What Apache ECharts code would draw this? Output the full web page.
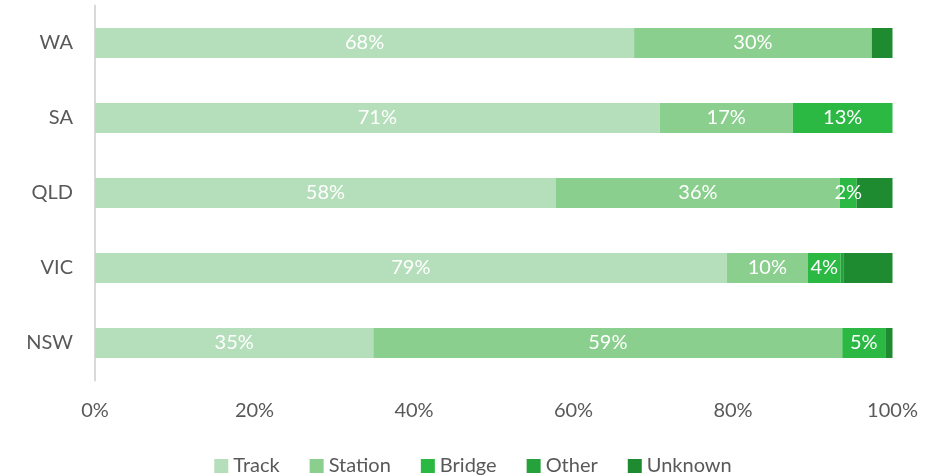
<!DOCTYPE html>
<html><head><meta charset="utf-8">
<script src="https://cdn.jsdelivr.net/npm/echarts@6/dist/echarts.min.js"></script>
<style>html,body{margin:0;padding:0;background:#fff}#c{width:946px;height:476px}</style>
</head><body><div id="c"></div>
<script>
const categories = ['NSW', 'VIC', 'QLD', 'SA', 'WA'];
const seriesNames = ['Track', 'Station', 'Bridge', 'Other', 'Unknown'];
const track   = [34.9, 79.2, 57.8, 70.8, 67.6];
const station = [58.8, 10.2, 35.6, 16.7, 29.8];
const bridge  = [5.4, 4.1, 2.1, 12.5, 0];
const other   = [0, 0.4, 0, 0, 0];
const unknown = [0.9, 6.1, 4.5, 0, 2.6];
const xTicks = [0, 20, 40, 60, 80, 100];
const colors = ['#b5dfbb', '#8bcf8f', '#2bb944', '#25a23b', '#1f8b31'];
const values = [track, station, bridge, other, unknown];
const labelled = [true, true, true, false, false];
const font = 'Lato, "Open Sans", sans-serif';

const chart = echarts.init(document.getElementById('c'));
chart.setOption({
  animation: false,
  textStyle: {fontFamily: font},
  color: colors,
  grid: {left: 95, right: 53.5, top: 5.5, bottom: 95.5, containLabel: false},
  legend: {
    top: 451, left: 'center', itemWidth: 14, itemHeight: 14, itemGap: 30,
    icon: 'rect',
    textStyle: {fontSize: 20, color: '#595959', fontFamily: font},
    data: seriesNames
  },
  xAxis: {
    type: 'value', min: xTicks[0], max: xTicks[xTicks.length - 1], interval: 20,
    splitLine: {show: false},
    axisLine: {show: false}, axisTick: {show: false},
    axisLabel: {formatter: v => v + '%', fontSize: 20, color: '#595959', margin: 20, fontFamily: font}
  },
  yAxis: {
    type: 'category', data: categories,
    axisLine: {show: true, lineStyle: {color: '#d9d9d9', width: 2}},
    axisTick: {show: false},
    axisLabel: {fontSize: 20, color: '#595959', margin: 22, fontFamily: font}
  },
  series: seriesNames.map((n, i) => ({
    name: n, type: 'bar', stack: 'all', barWidth: '40%',
    data: values[i],
    itemStyle: {color: colors[i], borderWidth: 0},
    label: {
      show: labelled[i], position: 'inside', color: '#ffffff', fontSize: 20, fontFamily: font,
      formatter: p => p.value > 0 ? Math.round(p.value) + '%' : ''
    }
  }))
});
</script></body></html>
